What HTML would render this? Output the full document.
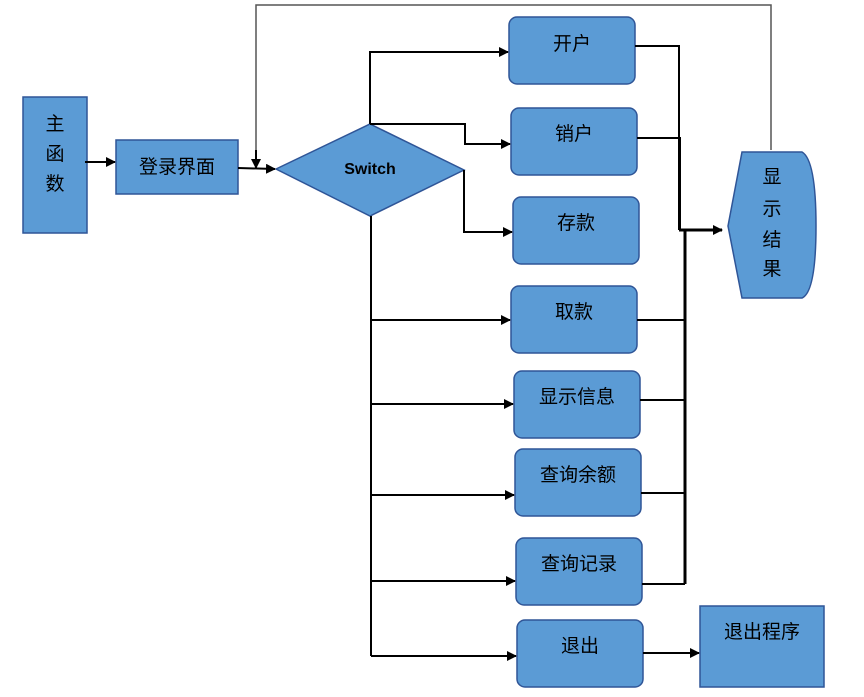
<!DOCTYPE html>
<html><head><meta charset="utf-8"><style>
body{margin:0;background:#fff;width:864px;height:692px;overflow:hidden}
svg text{font-family:"Liberation Sans","Noto Sans CJK SC",sans-serif;font-size:19px;fill:#000}
</style></head><body>
<svg width="864" height="692" viewBox="0 0 864 692">
<defs><marker id="a" markerWidth="10" markerHeight="10" refX="9" refY="5" orient="auto" markerUnits="userSpaceOnUse"><path d="M0,0 L10,5 L0,10 z" fill="#000"/></marker></defs>
<g fill="#5b9bd5" stroke="#2f5597" stroke-width="1.5">
<rect x="23" y="97" width="64" height="136"/>
<rect x="116" y="140" width="122" height="54"/>
<polygon points="276,169 370,124 464,170 370,216"/>
<rect x="509" y="17" width="126" height="67" rx="8"/>
<rect x="511" y="108" width="126" height="67" rx="8"/>
<rect x="513" y="197" width="126" height="67" rx="8"/>
<rect x="511" y="286" width="126" height="67" rx="8"/>
<rect x="514" y="371" width="126" height="67" rx="8"/>
<rect x="515" y="449" width="126" height="67" rx="8"/>
<rect x="516" y="538" width="126" height="67" rx="8"/>
<rect x="517" y="620" width="126" height="67" rx="8"/>
<rect x="700" y="606" width="124" height="81"/>
<path d="M742,152 L802,152 Q816,160 816,226 Q816,292 802,298 L742,298 L728,226 Z"/>
</g>
<g fill="none" stroke="#000" stroke-width="2">
<line x1="85" y1="162" x2="115" y2="162" marker-end="url(#a)"/>
<polyline points="238,168 275,169" marker-end="url(#a)"/>
<polyline points="370,124 370,52 508,52" marker-end="url(#a)"/>
<polyline points="370,124 465,124 465,144 510,144" marker-end="url(#a)"/>
<polyline points="464,170 464,232 512,232" marker-end="url(#a)"/>
<line x1="371" y1="216" x2="371" y2="656"/>
<line x1="371" y1="320" x2="510" y2="320" marker-end="url(#a)"/>
<line x1="371" y1="404" x2="513" y2="404" marker-end="url(#a)"/>
<line x1="371" y1="495" x2="514" y2="495" marker-end="url(#a)"/>
<line x1="371" y1="581" x2="515" y2="581" marker-end="url(#a)"/>
<line x1="371" y1="656" x2="516" y2="656" marker-end="url(#a)"/>
<line x1="643" y1="653" x2="699" y2="653" marker-end="url(#a)"/>
<polyline points="635,46 679,46 679,230"/>
<polyline points="637,138 680,138 680,230"/>
<line x1="679" y1="230" x2="722" y2="230" stroke-width="3" marker-end="url(#a)"/>
<line x1="685" y1="230" x2="685" y2="584" stroke-width="3"/>
<line x1="637" y1="320" x2="685" y2="320"/>
<line x1="640" y1="400" x2="685" y2="400"/>
<line x1="641" y1="493" x2="685" y2="493"/>
<line x1="642" y1="584" x2="685" y2="584"/>
<polyline points="256,168 256,5 771,5 771,150" stroke="#555" stroke-width="1.5"/>
<line x1="256" y1="150" x2="256" y2="168" marker-end="url(#a)"/>
</g>
<text x="55" y="130" text-anchor="middle">主</text>
<text x="55" y="160" text-anchor="middle">函</text>
<text x="55" y="190" text-anchor="middle">数</text>
<text x="177" y="173" text-anchor="middle">登录界面</text>
<text x="370" y="174" text-anchor="middle" style="font-size:16px;font-weight:bold">Switch</text>
<text x="572" y="50" text-anchor="middle">开户</text>
<text x="574" y="140" text-anchor="middle">销户</text>
<text x="576" y="229" text-anchor="middle">存款</text>
<text x="574" y="318" text-anchor="middle">取款</text>
<text x="577" y="403" text-anchor="middle">显示信息</text>
<text x="578" y="481" text-anchor="middle">查询余额</text>
<text x="579" y="570" text-anchor="middle">查询记录</text>
<text x="580" y="652" text-anchor="middle">退出</text>
<text x="762" y="638" text-anchor="middle">退出程序</text>
<text x="772" y="183" text-anchor="middle">显</text>
<text x="772" y="215" text-anchor="middle">示</text>
<text x="772" y="246" text-anchor="middle">结</text>
<text x="772" y="275" text-anchor="middle">果</text>
</svg>
</body></html>
